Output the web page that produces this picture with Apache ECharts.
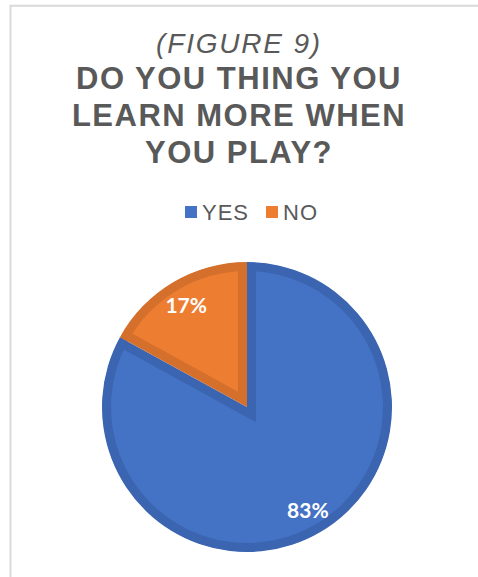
<!DOCTYPE html>
<html>
<head>
<meta charset="utf-8">
<script src="https://cdn.jsdelivr.net/npm/echarts@6/dist/echarts.min.js"></script>
<style>
  html, body { margin: 0; padding: 0; background: #ffffff; }
  #chart { width: 478px; height: 577px; }
  /* wide character spacing for the heading and legend text */
  #chart text[style*="28px"] { letter-spacing: 1.8px; }
  #chart text[style*="31px"] { letter-spacing: 1.5px; }
  #chart text[style*="22px"] { letter-spacing: 1px; }
</style>
</head>
<body>
<div id="chart"></div>
<script>
// Survey answers
const categories = ['YES', 'NO'];
const shares = [83, 17];

// Heading lines
const subtitleText = '(FIGURE 9)';
const questionLines = ['DO YOU THING YOU', 'LEARN MORE WHEN', 'YOU PLAY?'];

// Slice colours: fill and darker edge band
const fillColors = ['#4472C4', '#ED7D31'];
const edgeColors = ['#3B65B1', '#D4702C'];

const CENTER = [247, 407];
const OUTER = 145;      // outer edge of the pie
const BAND = 9;         // width of the darker edge band
// shifting each slice along its bisector insets its straight edges by BAND
const INSET_SHIFT = BAND / Math.sin(Math.PI * shares[1] / 100);

const chart = echarts.init(document.getElementById('chart'), null, { renderer: 'svg' });

function pieLayer(extra) {
  return Object.assign({
    type: 'pie',
    center: CENTER,
    startAngle: 90,
    clockwise: true,
    silent: true,
    animation: false,
    avoidLabelOverlap: false,
    legendHoverLink: false,
    emphasis: { disabled: true, scale: false },
    label: { show: false },
    labelLine: { show: false }
  }, extra);
}

const headingGraphics = [
  {
    type: 'text', x: 239, y: 43,
    style: { text: subtitleText, font: 'italic 28px "Liberation Sans"', fill: '#595959', textAlign: 'center', verticalAlign: 'middle' }
  }
].concat(questionLines.map((line, i) => ({
  type: 'text', x: 239, y: 78 + i * 37,
  style: { text: line, font: 'bold 31px "Liberation Sans"', fill: '#595959', textAlign: 'center', verticalAlign: 'middle' }
})));

const option = {
  backgroundColor: '#ffffff',
  graphic: [
    {
      type: 'rect', z: 0,
      shape: { x: 10.5, y: 5.8, width: 500, height: 600 },
      style: { fill: null, stroke: '#D9D9D9', lineWidth: 2 }
    }
  ].concat(headingGraphics),
  legend: {
    data: categories,
    left: 185,
    top: 201,
    padding: 0,
    icon: 'rect',
    itemWidth: 12,
    itemHeight: 12,
    itemGap: 20,
    selectedMode: false,
    textStyle: { fontFamily: 'Liberation Sans', fontSize: 22, color: '#595959' }
  },
  series: [
    // light fill of each slice, inset from the straight edges
    pieLayer({
      name: 'fill', z: 3,
      radius: [0, OUTER + 9],
      selectedMode: 'multiple',
      selectedOffset: INSET_SHIFT,
      data: categories.map((c, i) => ({
        name: c, value: shares[i], selected: true,
        itemStyle: { color: fillColors[i], borderWidth: 0 },
        select: { itemStyle: { color: fillColors[i], borderWidth: 0 } }
      }))
    }),
    // darker base of the whole pie
    pieLayer({
      name: 'base', z: 2,
      radius: [0, OUTER],
      data: categories.map((c, i) => ({
        name: c, value: shares[i],
        itemStyle: { color: edgeColors[i], borderWidth: 0 }
      }))
    }),
    // white surround trimming the fill to the pie outline
    pieLayer({
      name: 'surround', z: 4,
      radius: [OUTER - 0.5, OUTER + 33],
      data: categories.map((c, i) => ({
        name: c, value: shares[i],
        itemStyle: { color: '#ffffff', borderWidth: 0 }
      }))
    }),
    // darker band along the arc
    pieLayer({
      name: 'rim', z: 5,
      radius: [OUTER - BAND, OUTER],
      data: categories.map((c, i) => ({
        name: c, value: shares[i],
        itemStyle: { color: edgeColors[i], borderWidth: 0 }
      }))
    }),
    // percentage labels
    pieLayer({
      name: 'labels', z: 6,
      radius: [96, 137],
      label: {
        show: true,
        position: 'inside',
        formatter: '{c}%',
        color: '#ffffff',
        fontFamily: 'Lato',
        fontWeight: 'bold',
        fontSize: 21
      },
      data: categories.map((c, i) => ({
        name: c, value: shares[i],
        itemStyle: { color: 'rgba(0,0,0,0)', borderWidth: 0 }
      }))
    })
  ]
};

chart.setOption(option);
</script>
</body>
</html>
